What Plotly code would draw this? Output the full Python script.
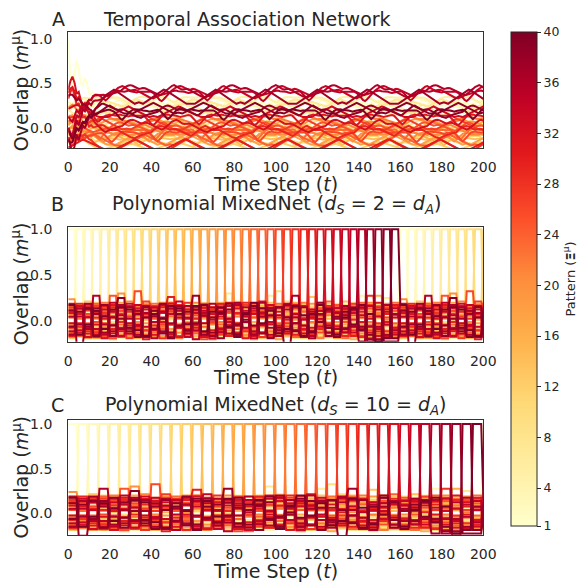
import plotly.graph_objects as go

# ---------------- data ----------------
T_MAX = 200
N_PAT = 40
time_steps = list(range(0, T_MAX + 1))
x_ticks = list(range(0, 201, 20))
y_ticks = [0.0, 0.5, 1.0]
y_tick_text = ["0.0", "0.5", "1.0"]
cbar_ticks = [1, 4, 8, 12, 16, 20, 24, 28, 32, 36, 40]

# ColorBrewer YlOrRd anchor colours (matplotlib 'YlOrRd')
ylorrd = ["#ffffcc", "#ffeda0", "#fed976", "#feb24c", "#fd8d3c",
          "#fc4e2a", "#e31a1c", "#bd0026", "#800026"]

# Panels B and C: steps each pattern stays retrieved, and the order of retrieval
b_steps_per_pattern = 4
c_steps_per_pattern = 5
retrieval_order = list(range(1, N_PAT + 1))

# Pattern-pattern overlaps, lower triangle, rows 2..40 (read/estimated),
# written in units of 1/80
CORR_UNIT = 80.0
corr_text = """
5
-8 12
3 -11 7
14 -2 -9 6
-6 9 15 -13 2
10 -4 -7 11 -15 4
-12 6 2 -5 9 13 -3
7 -14 10 3 -8 -1 12 5
-3 8 -10 16 4 -9 6 -12 11
12 -7 5 -2 -13 8 -4 10 -6 3
-9 13 -3 7 10 -16 2 -8 14 -5 9
4 -10 17 -6 1 12 -11 6 -3 8 -14 2
-15 3 -5 12 -8 5 14 -2 9 -11 6 -7 13
8 11 -13 -4 15 -6 1 -10 4 13 -2 9 -12 6
-2 -9 6 10 -5 14 -8 12 -15 1 7 -4 11 -13 5
11 5 -12 -8 3 -10 16 -3 7 -6 12 10 -9 4 -14 2
-7 14 4 -15 9 2 -6 8 -11 15 -3 -13 5 12 -1 -10 7
13 -3 -8 5 -12 11 3 -14 6 -2 10 16 -7 -5 9 13 -11 4
19 8 -15 2 11 -9 24 5 -4 12 -13 1 15 -10 7 -6 14 -3 -8
-10 -6 11 14 -3 7 -12 17 -1 -9 4 13 -14 8 -5 16 -2 -11 6 10
6 12 -4 -11 16 -14 8 -7 13 5 -10 -2 9 -15 11 3 -13 7 -1 -12 4
-14 2 9 7 -6 13 -3 -12 10 -8 15 -5 4 11 -9 -1 6 -16 12 3 -7 8
9 -13 -2 15 8 -4 11 3 -10 14 -6 12 -15 2 13 -11 -5 9 -3 7 -14 5 10
-4 7 13 -9 -14 22 -8 10 5 -12 2 -7 16 -3 -10 12 8 -2 14 -13 6 -9 3 11
3 -11 6 -1 12 -15 9 -6 26 4 -8 14 -3 10 -12 5 -16 11 2 -5 13 -7 15 -10 -2
-11 10 -6 13 -2 9 -14 4 -7 17 11 -3 8 -13 6 -9 15 -1 -12 8 -4 14 -10 3 12 -5
12 -5 14 -10 7 -3 6 -15 2 -8 13 9 -11 5 16 -4 -13 10 -6 1 15 -9 7 -14 4 11 -2
-6 15 -9 3 -11 12 -1 8 -13 6 -4 -15 10 14 -7 2 11 -12 9 -3 -10 16 -5 8 -14 3 13 -8
10 -2 4 -14 13 -7 11 -4 8 -16 5 12 21 -6 -2 9 -10 3 15 -13 7 -1 -11 6 10 -8 4 -12 2
-13 6 -11 9 2 14 -9 13 -5 3 -12 7 -3 -14 10 -6 12 -8 4 16 -2 -15 9 -4 11 -10 1 14 -7 5
7 -10 12 -3 -15 4 13 -7 11 -13 9 -1 15 -6 2 12 -14 6 -9 -4 11 5 -13 17 -3 8 -11 -2 13 -6 9
-2 13 -14 8 5 -11 -6 15 -3 10 -8 14 -12 3 -9 7 4 -15 11 -1 -13 9 6 -10 14 -4 -7 12 -11 3 -5 8
15 -8 3 -12 10 8 -13 -2 14 -5 12 -10 6 17 -14 -3 9 1 -7 13 -11 4 -15 7 -1 12 -9 6 -13 10 2 -6 11
-9 4 10 -7 -12 16 5 -11 -4 13 -1 8 -14 9 3 -16 7 12 -10 2 14 -6 11 -3 -12 5 15 -8 1 -13 9 -4 7 -10
4 11 -7 22 -3 -9 14 2 -12 7 -15 3 11 -5 13 -8 -2 15 6 -11 -4 12 -9 16 -6 -13 10 3 -14 8 -1 11 -7 5 12
-12 -3 15 6 -10 3 -7 12 9 -14 4 -9 -2 13 -11 10 5 -13 8 -6 16 -1 -12 4 11 -8 14 22 -4 -15 6 -10 2 13 -5 -18
9 -20 -5 11 14 -13 2 -9 6 12 -7 15 -10 -4 8 22 -12 3 -15 10 -3 7 13 -11 5 -6 -21 -2 12 -9 16 -13 4 -7 10 -5 -16
-5 8 11 -13 4 10 20 -6 -14 3 9 -11 13 6 -8 -2 14 -10 7 15 -12 1 -4 11 -15 12 3 -9 -13 6 -1 10 -14 8 -3 14 -12 -18
14 -12 -3 9 -7 -4 12 10 -8 -13 6 2 -15 11 -3 13 -9 8 12 -5 -14 6 16 -2 9 -11 -7 13 5 -10 14 -6 -12 3 11 -8 6 -18 -15
"""

# Panel A: one 49-step cycle of the oscillation shapes
a_shape_0 = [0.0, 0.3, 0.6, 0.8, 0.95, 1.0, 0.9, 0.7, 0.5, 0.4, 0.45, 0.55, 0.5, 0.35,
             0.2, 0.05, -0.1, -0.3, -0.5, -0.6, -0.45, -0.2, 0.1, 0.4, 0.7, 0.9, 1.0,
             0.85, 0.6, 0.4, 0.3, 0.35, 0.4, 0.3, 0.1, -0.1, -0.3, -0.5, -0.7, -0.8,
             -0.9, -1.0, -0.8, -0.6, -0.5, -0.4, -0.3, -0.2, -0.1]
a_shape_1 = [0.5, 0.6, 0.6, 0.5, 0.3, 0.0, -0.4, -0.8, -1.0, -0.7, -0.3, 0.1, 0.4, 0.6,
             0.7, 0.7, 0.6, 0.6, 0.5, 0.5, 0.4, 0.3, 0.4, 0.5, 0.6, 0.6, 0.5, 0.2, -0.2,
             -0.6, -0.9, -0.6, -0.2, 0.2, 0.5, 0.6, 0.7, 0.6, 0.5, 0.5, 0.6, 0.7, 0.6,
             0.5, 0.4, 0.4, 0.5, 0.5, 0.5]
a_shape_2 = [-1.0, -0.8, -0.6, -0.4, -0.2, 0.0, 0.2, 0.4, 0.6, 0.8, 1.0, 0.8, 0.6, 0.4,
             0.2, 0.0, -0.2, -0.4, -0.6, -0.8, -1.0, -0.9, -0.8, -0.9, -1.0, -0.8, -0.6,
             -0.4, -0.2, 0.0, 0.2, 0.4, 0.6, 0.8, 1.0, 0.9, 0.7, 0.5, 0.3, 0.1, -0.1,
             -0.3, -0.5, -0.7, -0.9, -1.0, -1.0, -1.0, -1.0]
a_shapes = [a_shape_0, a_shape_1, a_shape_2]

a_base = [0.28, 0.25, 0.30, 0.22, 0.32, 0.20, 0.27, 0.15, 0.05, -0.18,
          -0.12, -0.20, -0.02, -0.15, 0.02, -0.08, -0.04, -0.13, 0.05, -0.10,
          -0.02, 0.08, -0.06, -0.14, 0.00, -0.09, 0.04, -0.20, -0.05, -0.19,
          0.10, 0.02, 0.18, 0.40, 0.37, 0.41, 0.35, 0.18, 0.22, 0.16]
a_amp = [0.05, 0.06, 0.05, 0.07, 0.04, 0.06, 0.05, 0.06, 0.05, 0.04,
         0.05, 0.04, 0.05, 0.05, 0.06, 0.06, 0.05, 0.06, 0.05, 0.06,
         0.06, 0.05, 0.07, 0.06, 0.06, 0.07, 0.06, 0.07, 0.07, 0.06,
         0.07, 0.07, 0.06, 0.07, 0.07, 0.07, 0.08, 0.07, 0.06, 0.07]
a_shape_id = [0, 1, 2, 0, 1, 2, 0, 1, 2, 0,
              1, 2, 0, 1, 2, 0, 1, 2, 0, 1,
              2, 0, 1, 2, 0, 1, 2, 2, 0, 2,
              1, 0, 2, 0, 1, 0, 2, 0, 2, 1]
a_phase = [0, 7, 14, 21, 28, 35, 42, 3, 10, 17,
           24, 31, 38, 45, 5, 12, 19, 26, 33, 40,
           47, 8, 15, 22, 29, 36, 43, 2, 9, 27,
           16, 23, 30, 0, 12, 24, 37, 6, 18, 31]
a_start = [1.0, 0.30, 0.25, 0.20, 0.30, 0.15, 0.28, 0.10, 0.05, -0.05,
           0.00, -0.10, 0.10, 0.00, 0.05, 0.08, -0.10, 0.00, 0.12, -0.05,
           0.10, 0.20, -0.15, -0.10, 0.05, -0.20, 0.15, -0.10, 0.30, -0.20,
           0.35, 0.40, 0.20, 0.00, 0.10, -0.05, -0.15, 0.30, 0.00, -0.10]
a_settle = [1.0, 1.2, 1.3, 1.1, 0.8, 0.9, 0.7, 0.5, 0.55, 0.4,
            0.3, 0.32, 0.2, 0.15, 0.12, 0.08, 0.05, 0.02]
a_pattern1_transient = [1.0, 0.55, 0.45, 0.62, 0.76, 0.66, 0.5, 0.48, 0.56, 0.5,
                        0.4, 0.37, 0.4, 0.36, 0.32, 0.3, 0.29]

# ---------------- helpers ----------------
FONT = "DejaVu Sans"
TXT = "#262626"


def hex_rgb(h):
    h = h.lstrip("#")
    return tuple(int(h[i:i + 2], 16) for i in (0, 2, 4))


def pattern_color(mu):
    f = (mu - 1) / (N_PAT - 1) * (len(ylorrd) - 1)
    i = min(int(f), len(ylorrd) - 2)
    r = f - i
    c0, c1 = hex_rgb(ylorrd[i]), hex_rgb(ylorrd[i + 1])
    return "rgb(%d,%d,%d)" % tuple(round(a + (b - a) * r) for a, b in zip(c0, c1))


rows = [[int(v) for v in line.split()] for line in corr_text.strip().splitlines()]
corr = [[0.0] * (N_PAT + 1) for _ in range(N_PAT + 1)]
for i, row in enumerate(rows, start=2):
    for j, v in enumerate(row[: i - 1], start=1):
        corr[i][j] = corr[j][i] = v / CORR_UNIT
for i in range(1, N_PAT + 1):
    corr[i][i] = 1.0


def retrieval_series(mu, steps):
    out = []
    for t in time_steps:
        active = retrieval_order[(t // steps) % N_PAT]
        out.append(corr[mu][active])
    return out


def temporal_series(mu):
    k = mu - 1
    shape = a_shapes[a_shape_id[k]]
    out = []
    for t in time_steps:
        steady = a_base[k] + a_amp[k] * shape[(t + a_phase[k]) % len(shape)]
        if mu == 1:
            if t < len(a_pattern1_transient):
                steady = a_pattern1_transient[t]
        elif t < len(a_settle):
            steady = steady + (a_start[k] - a_base[k]) * a_settle[t]
        out.append(steady)
    return out


# ---------------- figure ----------------
fig = go.Figure()

panels = [
    ("x", "y", lambda mu: temporal_series(mu)),
    ("x2", "y2", lambda mu: retrieval_series(mu, b_steps_per_pattern)),
    ("x3", "y3", lambda mu: retrieval_series(mu, c_steps_per_pattern)),
]
for xa, ya, fn in panels:
    for mu in range(1, N_PAT + 1):
        fig.add_trace(go.Scatter(
            x=time_steps, y=fn(mu), mode="lines", xaxis=xa, yaxis=ya,
            line=dict(color=pattern_color(mu), width=2),
            showlegend=False, hoverinfo="skip"))

# colour bar carrier
colorscale = [[i / (len(ylorrd) - 1), c] for i, c in enumerate(ylorrd)]
fig.add_trace(go.Scatter(
    x=[-50, -50], y=[0, 0], mode="markers", xaxis="x", yaxis="y",
    marker=dict(color=[1, 40], cmin=1, cmax=40, colorscale=colorscale, size=1,
                showscale=True,
                colorbar=dict(
                    x=511 / 582, xanchor="left", xref="paper", xpad=0,
                    y=1 - 279 / 582, yanchor="middle", yref="paper", ypad=0,
                    len=494 / 582, lenmode="fraction",
                    thickness=26, thicknessmode="pixels",
                    outlinewidth=1, outlinecolor=TXT,
                    tickvals=cbar_ticks, ticktext=[str(v) for v in cbar_ticks],
                    ticks="outside", ticklen=4, tickcolor=TXT, tickwidth=1,
                    tickfont=dict(family=FONT, size=12.5, color=TXT),
                    title=dict(text="Pattern (<b>Ξ</b><sup>μ</sup>)", side="right",
                               font=dict(family=FONT, size=13, color=TXT)),
                )),
    showlegend=False, hoverinfo="skip"))

x_dom = [68.3 / 582, 483.3 / 582]
y_doms = [
    [1 - 148.3 / 582, 1 - 32.3 / 582],
    [1 - 341.7 / 582, 1 - 226.7 / 582],
    [1 - 535.0 / 582, 1 - 420.0 / 582],
]
y_ranges = [[-0.232, 1.076], [-0.226, 1.028], [-0.243, 1.045]]

axis_common = dict(showline=True, mirror=True, linecolor="#333333", linewidth=1.3,
                   showgrid=False, zeroline=False, ticks="", automargin=False,
                   tickfont=dict(family=FONT, size=14, color=TXT))
layout_axes = {}
for n in range(3):
    sx = "" if n == 0 else str(n + 1)
    layout_axes["xaxis" + sx] = dict(
        domain=x_dom, range=[0, 200], tickvals=x_ticks,
        ticktext=[str(v) for v in x_ticks], anchor="y" + sx,
        ticklabelstandoff=6, **axis_common)
    layout_axes["yaxis" + sx] = dict(
        domain=y_doms[n], range=y_ranges[n], tickvals=y_ticks,
        ticktext=y_tick_text, anchor="x" + sx,
        ticklabelstandoff=12, **axis_common)

fig.update_layout(
    width=582, height=582,
    margin=dict(l=0, r=0, t=0, b=0, pad=0, autoexpand=False),
    paper_bgcolor="white", plot_bgcolor="white",
    font=dict(family=FONT, color=TXT),
    **layout_axes)


def ann(text, x, y, size, xanchor="center", angle=0):
    fig.add_annotation(text=text, x=x / 582, y=1 - y / 582, xref="paper", yref="paper",
                       xanchor=xanchor, yanchor="middle", showarrow=False,
                       textangle=angle, font=dict(family=FONT, size=size, color=TXT))


ann("A", 50, 19, 19, "left")
ann("Temporal Association Network", 101, 19, 19, "left")
ann("B", 49, 204, 19, "left")
ann("Polynomial MixedNet (<i>d</i><sub><i>S</i></sub> = 2 = <i>d</i><sub><i>A</i></sub>)",
    276, 204, 19)
ann("C", 49, 405, 19, "left")
ann("Polynomial MixedNet (<i>d</i><sub><i>S</i></sub> = 10 = <i>d</i><sub><i>A</i></sub>)",
    276, 405, 19)
for yc in (184, 377, 571):
    ann("Time Step (<i>t</i>)", 275.8, yc, 19)
for yc in (90.3, 284.2, 477.5):
    ann("Overlap (<i>m</i><sup>μ</sup>)", 20, yc, 19, angle=-90)

fig.write_html(
    "out.html",
    config={"displayModeBar": False},
    post_script="document.body.style.margin='0';document.body.style.overflow='hidden';",
)
